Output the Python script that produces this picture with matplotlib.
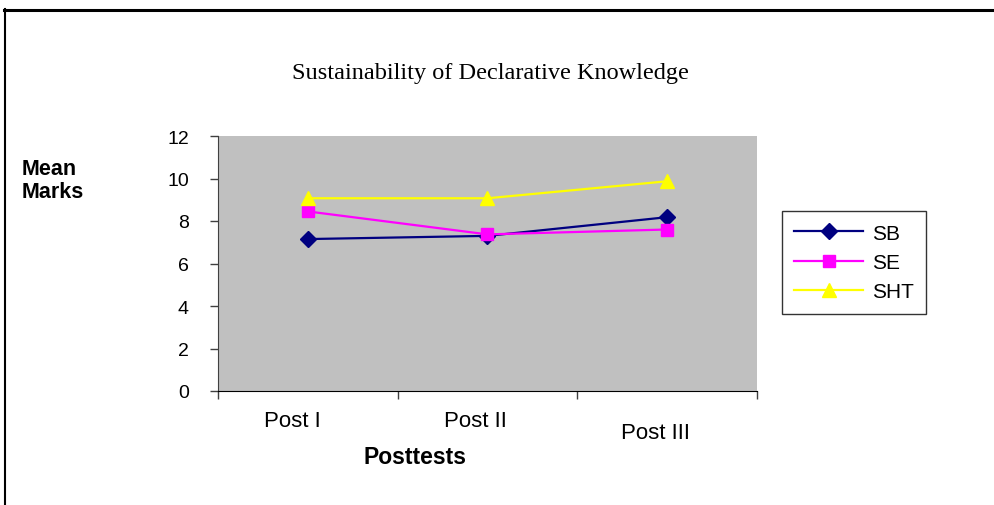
import matplotlib
matplotlib.use("Agg")
import matplotlib.pyplot as plt
from matplotlib.lines import Line2D
from matplotlib.transforms import ScaledTranslation

categories = ["Post I", "Post II", "Post III"]
sb = [7.15, 7.3, 8.18]
se = [8.45, 7.37, 7.6]
sht = [9.07, 9.07, 9.87]
yticks = [0, 2, 4, 6, 8, 10, 12]

plt.rcParams['font.family'] = ['Liberation Sans', 'DejaVu Sans']

W, H = 995, 506
fig = plt.figure(figsize=(W / 100, H / 100), dpi=100)
ax = fig.add_axes([218 / W, 1 - 392 / H, (757 - 218) / W, (392 - 137) / H])
ax.set_facecolor('#C0C0C0')

x = list(range(1, len(categories) + 1))
ax.plot(x, sb, color='#000080', marker='D', markersize=8, lw=1.6, label='SB', clip_on=False)
ax.plot(x, se, color='#FF00FF', marker='s', markersize=8.5, lw=1.6, label='SE', clip_on=False)
ax.plot(x, sht, color='#FFFF00', marker='^', markersize=10, lw=1.6, label='SHT', clip_on=False)

ax.set_xlim(0.5, len(categories) + 0.5)
ax.set_ylim(0, 12)
ax.set_yticks(yticks)
ax.tick_params(axis='y', direction='out', length=6, width=1, labelsize=14, pad=15, color='#404040')
ax.set_xticks([i + 0.5 for i in range(0, len(categories) + 1)])
ax.set_xticklabels([])
ax.set_xticks(x, minor=True)
ax.set_xticklabels(categories, minor=True)
ax.tick_params(axis='x', which='major', direction='out', length=6, width=1, color='#404040')
ax.tick_params(axis='x', which='minor', length=0, labelsize=16, pad=14)

for i, lab in enumerate(ax.get_xticklabels(minor=True)):
    dx = -15 / 100 if i == 0 else -12 / 100
    dy = -12 / 100 if i == len(categories) - 1 else 0
    lab.set_transform(lab.get_transform() + ScaledTranslation(dx, dy, fig.dpi_scale_trans))

for s in ['top', 'right']:
    ax.spines[s].set_visible(False)
ax.spines['left'].set_color('#404040')
ax.spines['bottom'].set_color('#000000')

fig.text(490 / W, 1 - 74 / H, "Sustainability of Declarative Knowledge", ha='center', va='center',
         fontsize=17.5, family=['Liberation Serif', 'DejaVu Serif'])
fig.text(22 / W, 1 - 181 / H, "Mean\nMarks", ha='left', va='center', fontsize=15.5, fontweight='bold',
         linespacing=1.1)
fig.text(415 / W, 1 - 458 / H, "Posttests", ha='center', va='center', fontsize=16.5, fontweight='bold')

leg = ax.legend(loc='upper left', bbox_to_anchor=(782 / W, 1 - 212 / H), bbox_transform=fig.transFigure,
                borderaxespad=0, fancybox=False, frameon=True, fontsize=15, handlelength=3.3,
                borderpad=0.6, labelspacing=0.5, handletextpad=0.4)
leg.get_frame().set_edgecolor('black')
leg.get_frame().set_linewidth(1)

fig.add_artist(Line2D([4 / W, 1], [1 - 11 / H, 1 - 11 / H], transform=fig.transFigure, color='black', lw=2.2))
fig.add_artist(Line2D([5 / W, 5 / W], [1 - 10 / H, 0], transform=fig.transFigure, color='black', lw=1.5))

fig.savefig('out.png', dpi=100)
